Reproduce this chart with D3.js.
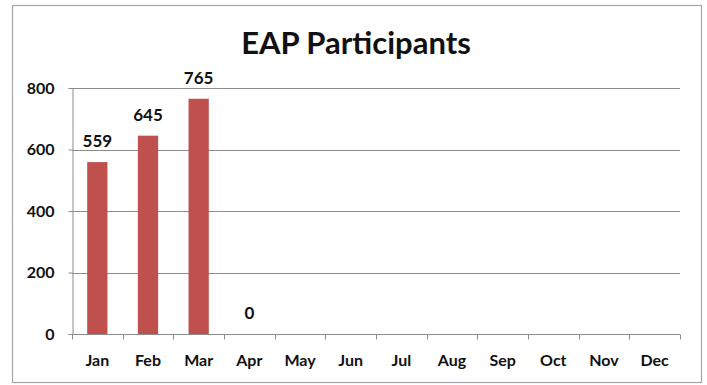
<!DOCTYPE html>
<html>
<head>
<meta charset="utf-8">
<script src="https://cdn.jsdelivr.net/npm/d3@7"></script>
<style>
  html, body { margin: 0; padding: 0; background: #fff; }
  svg { display: block; }
  text { font-family: Lato, "Open Sans", sans-serif; fill: #111; }
</style>
</head>
<body>
<svg id="chart" width="707" height="385"></svg>
<script>
// Monthly participant counts (months with no entry yet are null)
const months = ["Jan", "Feb", "Mar", "Apr", "May", "Jun", "Jul", "Aug", "Sep", "Oct", "Nov", "Dec"];
const participants = [559, 645, 765, 0, null, null, null, null, null, null, null, null];
const yTicks = [0, 200, 400, 600, 800];
const chartTitle = "EAP Participants";

const W = 707, H = 385;
const margin = { left: 72, right: 27, top: 88, bottom: 51 };
const svg = d3.select("#chart");

// Outer chart frame
svg.append("rect")
  .attr("x", 12.5).attr("y", 5.5)
  .attr("width", 689).attr("height", 377)
  .attr("fill", "#fff").attr("stroke", "#a6a6a6").attr("stroke-width", 1.2);

const x = d3.scaleBand()
  .domain(months)
  .range([margin.left, W - margin.right])
  .paddingInner(0.6).paddingOuter(0.3);

const y = d3.scaleLinear()
  .domain([0, 800])
  .range([H - margin.bottom, margin.top]);

// Horizontal gridlines
svg.append("g")
  .selectAll("line")
  .data(yTicks.filter(d => d > 0))
  .join("line")
  .attr("x1", margin.left).attr("x2", W - margin.right)
  .attr("y1", d => Math.round(y(d)) + 0.5).attr("y2", d => Math.round(y(d)) + 0.5)
  .attr("stroke", "#8c8c8c").attr("stroke-width", 1);

// Y axis
const yAxis = svg.append("g")
  .attr("transform", `translate(${margin.left + 0.5},0)`)
  .call(d3.axisLeft(y).tickValues(yTicks).tickSize(4).tickPadding(14).tickFormat(d3.format("d")));
yAxis.select(".domain").attr("stroke", "#8c8c8c");
yAxis.selectAll(".tick line").attr("stroke", "#8c8c8c");
yAxis.selectAll(".tick text")
  .attr("font-family", "Lato, sans-serif").attr("font-weight", 700)
  .attr("font-size", 16).attr("fill", "#111");

// X axis with ticks at category boundaries
const xBase = Math.round(y(0)) + 0.5;
const xAxisG = svg.append("g");
xAxisG.append("line")
  .attr("x1", margin.left).attr("x2", W - margin.right)
  .attr("y1", xBase).attr("y2", xBase)
  .attr("stroke", "#8c8c8c");
const step = x.step();
const boundaries = d3.range(months.length + 1).map(i => x(months[0]) - x.paddingOuter() * step + i * step);
xAxisG.selectAll("line.tk")
  .data(boundaries)
  .join("line").attr("class", "tk")
  .attr("x1", d => Math.round(d) + 0.5).attr("x2", d => Math.round(d) + 0.5)
  .attr("y1", xBase).attr("y2", xBase + 5)
  .attr("stroke", "#8c8c8c");
xAxisG.selectAll("text")
  .data(months)
  .join("text")
  .attr("x", d => x(d) + x.bandwidth() / 2)
  .attr("y", xBase + 31)
  .attr("text-anchor", "middle")
  .attr("font-weight", 700).attr("font-size", 16)
  .text(d => d);

// Bars
const data = months.map((m, i) => ({ month: m, value: participants[i] }));
svg.append("g")
  .selectAll("rect")
  .data(data.filter(d => d.value != null && d.value > 0))
  .join("rect")
  .attr("x", d => x(d.month))
  .attr("y", d => y(d.value))
  .attr("width", x.bandwidth())
  .attr("height", d => y(0) - y(d.value))
  .attr("fill", "#c0504d");

// Value labels
svg.append("g")
  .selectAll("text")
  .data(data.filter(d => d.value != null))
  .join("text")
  .attr("x", d => x(d.month) + x.bandwidth() / 2)
  .attr("y", d => y(d.value) - 15)
  .attr("text-anchor", "middle")
  .attr("font-weight", 700).attr("font-size", 17)
  .text(d => d.value);

// Title
svg.append("text")
  .attr("x", 356).attr("y", 54)
  .attr("text-anchor", "middle")
  .attr("font-weight", 700).attr("font-size", 31)
  .text(chartTitle);
</script>
</body>
</html>
